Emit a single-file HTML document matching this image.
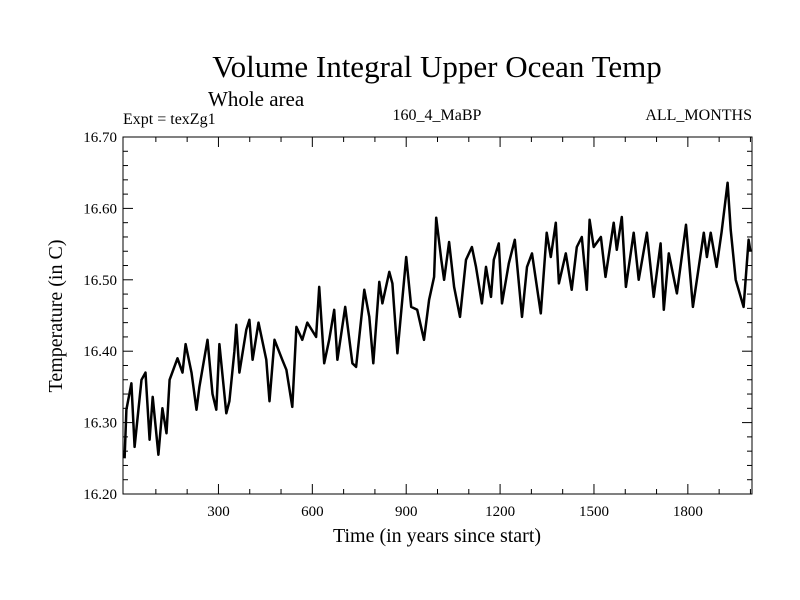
<!DOCTYPE html>
<html><head><meta charset="utf-8"><style>body{margin:0;background:#fff}svg{display:block}text{font-family:"Liberation Serif",serif;fill:#000}</style></head>
<body>
<svg id="chart" width="800" height="600" xmlns="http://www.w3.org/2000/svg">
<text x="437" y="77" font-size="31" text-anchor="middle">Volume Integral Upper Ocean Temp</text>
<text x="208" y="106" font-size="21">Whole area</text>
<text x="123" y="124" font-size="16">Expt = texZg1</text>
<text x="437" y="120" font-size="16" text-anchor="middle">160_4_MaBP</text>
<text x="752" y="120" font-size="16" text-anchor="end">ALL_MONTHS</text>
<text transform="translate(62,316) rotate(-90)" font-size="20" text-anchor="middle">Temperature (in C)</text>
<text x="437" y="542" font-size="20" text-anchor="middle">Time (in years since start)</text>
<rect x="123" y="137" width="629" height="357" fill="none" stroke="#000" stroke-width="1"/>
<g id="axes"></g>
<polyline id="series" fill="none" stroke="#000" stroke-width="2.5" stroke-linejoin="round"/>
</svg>
<script>
const years=[0,6,22,32,54,67,80,90,108,121,134,144,169,185,195,214,230,239,265,281,293,303,325,335,351,357,367,389,399,409,428,453,463,479,504,517,536,549,568,584,612,622,638,654,670,680,705,728,740,766,782,795,814,824,846,856,872,900,916,935,957,973,989,996,1012,1021,1037,1053,1072,1091,1110,1123,1142,1155,1171,1180,1196,1206,1228,1247,1270,1286,1302,1330,1349,1362,1378,1388,1410,1429,1445,1461,1477,1486,1499,1522,1537,1563,1573,1589,1602,1627,1643,1669,1691,1713,1723,1739,1765,1794,1816,1851,1861,1873,1892,1908,1927,1937,1953,1978,1994,2000];
const temps=[16.25,16.318,16.355,16.266,16.36,16.37,16.276,16.336,16.255,16.32,16.285,16.36,16.39,16.37,16.41,16.37,16.318,16.35,16.416,16.34,16.318,16.41,16.313,16.33,16.40,16.437,16.37,16.43,16.444,16.388,16.44,16.388,16.33,16.416,16.388,16.374,16.322,16.434,16.416,16.44,16.42,16.49,16.383,16.416,16.458,16.388,16.462,16.383,16.378,16.486,16.448,16.383,16.497,16.467,16.511,16.495,16.397,16.532,16.462,16.458,16.416,16.472,16.504,16.587,16.528,16.50,16.553,16.49,16.448,16.528,16.546,16.518,16.467,16.518,16.476,16.528,16.551,16.467,16.523,16.556,16.448,16.518,16.537,16.453,16.566,16.532,16.58,16.495,16.537,16.486,16.546,16.56,16.486,16.584,16.546,16.56,16.504,16.58,16.542,16.588,16.49,16.566,16.50,16.566,16.476,16.551,16.458,16.537,16.481,16.577,16.462,16.566,16.532,16.566,16.518,16.567,16.636,16.57,16.50,16.462,16.556,16.54];
const yTicks=[16.20,16.30,16.40,16.50,16.60,16.70];
const xTicks=[300,600,900,1200,1500,1800];
const X0=123,X1=752,Y0=494,Y1=137;
const xs=v=>X0+(v-(-5))/(2005-(-5))*(X1-X0);
const ys=v=>Y0-(v-16.2)/0.5*(Y0-Y1);
const NS="http://www.w3.org/2000/svg";
const ax=document.getElementById('axes');
function ln(x1,y1,x2,y2,name){const l=document.createElementNS(NS,'line');l.setAttribute('x1',x1);l.setAttribute('y1',y1);l.setAttribute('x2',x2);l.setAttribute('y2',y2);l.setAttribute('stroke','#000');


ax.appendChild(l);}
for(let v=16.2;v<=16.7001;v+=0.02){const y=ys(v);const major=Math.abs(Math.round(v*10)/10-v)<1e-6;const len=major?10:5;ln(X0,y,X0+len,y,'y-tick');ln(X1,y,X1-len,y,'y-tick-right');}
yTicks.forEach(v=>{const t=document.createElementNS(NS,'text');t.setAttribute('x',117);t.setAttribute('y',ys(v)+5);t.setAttribute('font-size','15');t.setAttribute('text-anchor','end');t.textContent=v.toFixed(2);


ax.appendChild(t);});
for(let v=100;v<=2000;v+=100){const x=xs(v);const major=v%300===0;const len=major?10:5;ln(x,Y0,x,Y0-len,'x-tick');ln(x,Y1,x,Y1+len,'x-tick-top');}
xTicks.forEach(v=>{const t=document.createElementNS(NS,'text');t.setAttribute('x',xs(v));t.setAttribute('y',516);t.setAttribute('font-size','15');t.setAttribute('text-anchor','middle');t.textContent=v;


ax.appendChild(t);});
document.getElementById('series').setAttribute('points',years.map((y,i)=>xs(y).toFixed(1)+','+ys(temps[i]).toFixed(1)).join(' '));
</script>
</body></html>
